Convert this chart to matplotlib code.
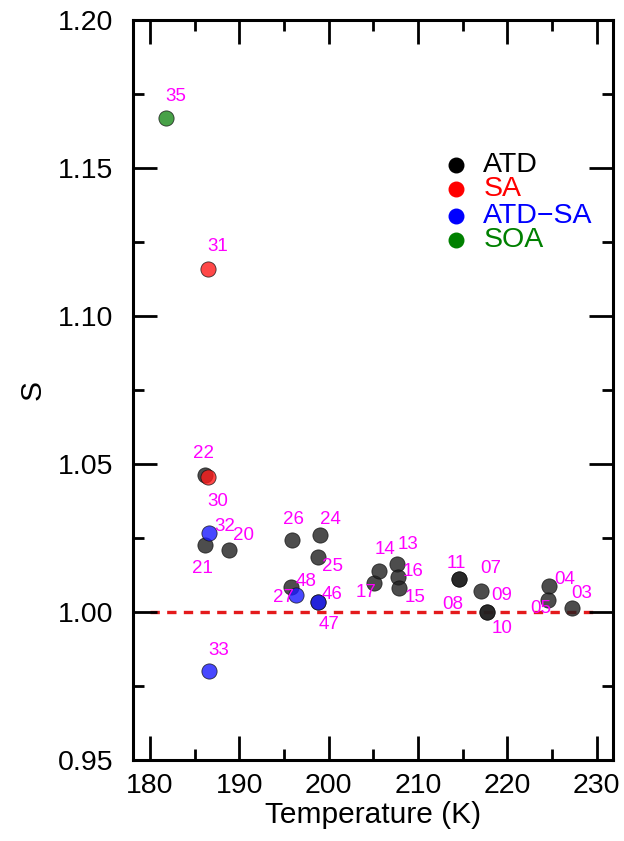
import matplotlib
matplotlib.use('Agg')
import matplotlib.pyplot as plt
from matplotlib.ticker import MultipleLocator

plt.rcParams['font.family'] = ['Liberation Sans', 'DejaVu Sans']

# 실험 번호별 온도(K), S 값
atd_id = ['22', '21', '20', '26', '24', '25', '27', '47', '17', '14', '13', '16', '15',
          '11', '08', '07', '09', '10', '04', '05', '03']
atd_t = [186.2, 186.2, 188.8, 195.9, 199.0, 198.8, 195.8, 198.8, 205.1, 205.6, 207.7, 207.8, 207.9,
         214.6, 214.6, 217.0, 217.7, 217.7, 224.7, 224.6, 227.2]
atd_s = [1.0463, 1.0226, 1.0210, 1.0243, 1.0260, 1.0186, 1.0084, 1.0034, 1.0098, 1.0139, 1.0162, 1.0118, 1.0081,
         1.0111, 1.0111, 1.0071, 1.0000, 1.0000, 1.0088, 1.0041, 1.0014]

sa_id = ['31', '30']
sa_t = [186.5, 186.5]
sa_s = [1.116, 1.0456]

atdsa_id = ['32', '48', '46', '33']
atdsa_t = [186.6, 196.4, 198.8, 186.6]
atdsa_s = [1.0267, 1.0057, 1.0034, 0.980]

soa_id = ['35']
soa_t = [181.8]
soa_s = [1.167]

# 라벨 위치 (픽셀 오프셋)
label_off = {
    '35': (10, 21), '31': (10, 22), '22': (-2, 21), '30': (10, -24), '32': (16, 6),
    '20': (15, 14), '21': (-3, -23), '26': (2, 21), '24': (11, 16), '25': (15, -10),
    '27': (-8, -10), '48': (10, 14), '46': (14, 7), '47': (11, -23), '33': (10, 21),
    '17': (-8, -10), '14': (6, 21), '13': (11, 20), '16': (15, 6), '15': (16, -9),
    '11': (-3, 16), '08': (-6, -25), '07': (10, 22), '09': (15, 16), '10': (15, -17),
    '04': (15, 6), '05': (-8, -9), '03': (10, 14),
}

fig = plt.figure(figsize=(6.24, 8.41), dpi=100)
ax = fig.add_axes([0.213, 0.0963, 0.769, 0.88])

ax.axhline(1.0, xmin=0.035, xmax=0.965, color='#e41a1c', ls=(0, (2.8, 2.2)), lw=2.4, zorder=1)

groups = [
    ('ATD', atd_id, atd_t, atd_s, '#202020', 'black'),
    ('SA', sa_id, sa_t, sa_s, '#ff1a1a', 'red'),
    ('ATD\u2212SA', atdsa_id, atdsa_t, atdsa_s, '#1a1aff', 'blue'),
    ('SOA', soa_id, soa_t, soa_s, '#1a8a1a', 'green'),
]

for name, ids, t, s, c, tc in groups:
    ax.scatter(t, s, s=120, color=c, alpha=0.8, edgecolors='#101010', linewidths=0.6, zorder=3)
    for i, x, y in zip(ids, t, s):
        dx, dy = label_off[i]
        ax.annotate(i, (x, y), xytext=(dx, dy), textcoords='offset pixels',
                    ha='center', va='center', color='magenta', fontsize=13.5, zorder=4)

# 범례
leg_y = [1.151, 1.1429, 1.1338, 1.1257]
for (name, ids, t, s, c, tc), ly in zip(groups, leg_y):
    ax.scatter([214.3], [ly], s=110, color=tc, zorder=3)
    ax.text(217.3, ly, name, color=tc, fontsize=20.5, va='center', ha='left')

ax.set_xlim(178.1, 231.8)
ax.set_ylim(0.95, 1.20)
ax.xaxis.set_major_locator(MultipleLocator(10))
ax.xaxis.set_minor_locator(MultipleLocator(5))
ax.yaxis.set_major_locator(MultipleLocator(0.05))
ax.yaxis.set_minor_locator(MultipleLocator(0.025))
ax.yaxis.set_major_formatter(matplotlib.ticker.FormatStrFormatter('%.2f'))
ax.tick_params(which='both', direction='in', top=True, right=True, width=2.0, labelsize=20.5)
ax.tick_params(axis='x', pad=9)
ax.tick_params(axis='y', pad=14)
ax.tick_params(which='major', length=17)
ax.tick_params(which='minor', length=8)
for sp in ax.spines.values():
    sp.set_linewidth(2.2)

ax.set_xlabel('Temperature (K)', fontsize=21.5, labelpad=2)
ax.set_ylabel('S', fontsize=21.5, labelpad=8)

plt.savefig('out.png', dpi=100)
